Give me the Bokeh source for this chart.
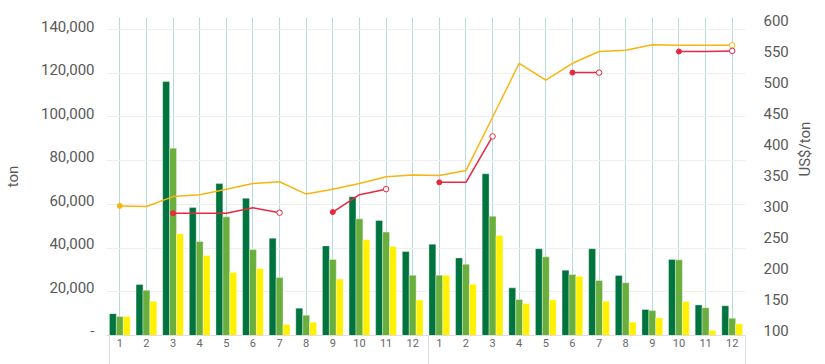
import math
import numpy as np
from bokeh.plotting import figure
from bokeh.models import ColumnDataSource, Range1d, LinearAxis, FixedTicker, Grid
from bokeh.transform import dodge
from bokeh.embed import file_html
from bokeh.resources import INLINE

# ---------------- data ----------------
month_labels = ["1", "2", "3", "4", "5", "6", "7", "8", "9", "10", "11", "12",
                "1", "2", "3", "4", "5", "6", "7", "8", "9", "10", "11", "12"]

vol_dark = [10000, 23300, 116200, 58600, 69500, 62800, 44500, 12500, 41000, 63500, 52600, 38400,
            41800, 35500, 74000, 21800, 39700, 29900, 39700, 27500, 11900, 34800, 14000, 13600]
vol_mid = [8700, 20700, 85700, 43000, 54300, 39300, 26500, 9300, 34800, 53400, 47300, 27600,
           27600, 32600, 54600, 16500, 36000, 27900, 25200, 24100, 11400, 34600, 12700, 7900]
vol_yellow = [8700, 15700, 46500, 36600, 28800, 30700, 5000, 6100, 25800, 43800, 40700, 16200,
              27600, 23500, 45800, 14600, 16300, 27100, 15700, 6100, 8100, 15600, 2300, 5300]

price_yellow = [301, 300, 316, 319, 328, 337, 340, 320, 328, 337, 348, 351,
                350, 358, 444, 531, 504, 531, 550, 552, 561, 560, 560, 560]
nan = float("nan")
price_red = [nan, nan, 289, 289, 289, 298, 290, nan, 291, 319, 328, nan,
             339, 339, 413, nan, nan, 516, 516, nan, nan, 550, 550, 551]

left_ticks = [0, 20000, 40000, 60000, 80000, 100000, 120000, 140000]
right_ticks = [100, 150, 200, 250, 300, 350, 400, 450, 500, 550, 600]

# ---------------- styles ----------------
C_DARK = "#00743F"
C_MID = "#6AAF3E"
C_YEL = "#FFF100"
C_LINE_Y = "#F7B50F"
C_LINE_R = "#E8283F"
FONT = "Roboto"
TXT = "#595959"

x = list(range(len(month_labels)))
src = ColumnDataSource(dict(x=x, dark=vol_dark, mid=vol_mid, yel=vol_yellow))

p = figure(width=825, height=364, output_backend="svg", toolbar_location=None,
           x_range=Range1d(-0.5, 23.5), y_range=Range1d(0, 145490),
           y_axis_location=None,
           min_border_left=102, min_border_right=77, min_border_top=17, min_border_bottom=29)
p.outline_line_color = None
p.background_fill_color = "white"
p.border_fill_color = "white"
p.extra_y_ranges = {"ylab": Range1d(-2303, 144145), "price": Range1d(91.94, 604.84)}

# grids
for g in p.ygrid:
    g.grid_line_color = None
p.add_layout(Grid(dimension=1, ticker=FixedTicker(ticks=left_ticks[1:]),
                  grid_line_color="#EEEEEE", grid_line_width=1))
p.xgrid.ticker = FixedTicker(ticks=x)
p.xgrid.grid_line_color = "#B3DCDA"
p.xgrid.grid_line_width = 1

# bars
bw = 0.26
for field, off, col in (("dark", -bw, C_DARK), ("mid", 0.0, C_MID), ("yel", bw, C_YEL)):
    p.vbar(x=dodge("x", off), top=field, width=bw, bottom=0, source=src,
           fill_color=col, line_color="white", line_alpha=0.35, line_width=1)

# lines
def seg_ends(vals):
    starts, ends = [], []
    n = len(vals)
    for i, v in enumerate(vals):
        if math.isnan(v):
            continue
        if i == 0 or math.isnan(vals[i - 1]):
            starts.append(i)
        if i == n - 1 or math.isnan(vals[i + 1]):
            ends.append(i)
    return starts, ends

for vals, col in ((price_yellow, C_LINE_Y), (price_red, C_LINE_R)):
    arr = np.array(vals, dtype=float)
    p.line(x=np.array(x, dtype=float), y=arr, y_range_name="price",
           line_color=col, line_width=1.5)
    s, e = seg_ends(vals)
    p.scatter(x=[x[i] for i in s], y=[vals[i] for i in s], y_range_name="price",
              size=5, fill_color=col, line_color=col)
    p.scatter(x=[x[i] for i in e], y=[vals[i] for i in e], y_range_name="price",
              size=5.5, fill_color="white", line_color=col, line_width=1)

# left axis (labels)
ax_l = LinearAxis(y_range_name="ylab", ticker=FixedTicker(ticks=left_ticks),
                  major_label_overrides={t: ("-" if t == 0 else f"{t:,}") for t in left_ticks},
                  axis_label="ton")
p.add_layout(ax_l, "left")

ax_r = LinearAxis(y_range_name="price", ticker=FixedTicker(ticks=right_ticks),
                  axis_label="US$/ton")
p.add_layout(ax_r, "right")
try:
    ax_r.axis_label_orientation = math.pi / 2
except Exception:
    pass

for ax in (ax_l, ax_r):
    ax.axis_line_color = None
    ax.major_tick_line_color = None
    ax.minor_tick_line_color = None
    ax.major_label_text_font = FONT
    ax.major_label_text_font_size = "15px"
    ax.major_label_text_color = TXT
    ax.axis_label_text_font = FONT
    ax.axis_label_text_font_size = "15px"
    ax.axis_label_text_font_style = "normal"
    ax.axis_label_text_color = TXT
ax_l.major_label_standoff = 6
ax_l.axis_label_standoff = 16
ax_r.major_label_standoff = 12
ax_r.axis_label_standoff = 13

# bottom axis: month labels, year-group separators as long minor ticks
xa = p.xaxis[0]
xa.ticker = FixedTicker(ticks=x, minor_ticks=[-0.4, 11.6, 23.5])
xa.major_label_overrides = {i: month_labels[i] for i in x}
xa.axis_line_color = "#DDDDDD"
xa.major_tick_line_color = None
xa.minor_tick_line_color = "#DDDDDD"
xa.minor_tick_in = 0
xa.minor_tick_out = 29
xa.major_label_standoff = -26
xa.major_label_text_font = FONT
xa.major_label_text_font_size = "11px"
xa.major_label_text_color = "#666666"

open("out.html", "w").write(file_html(p, INLINE))
